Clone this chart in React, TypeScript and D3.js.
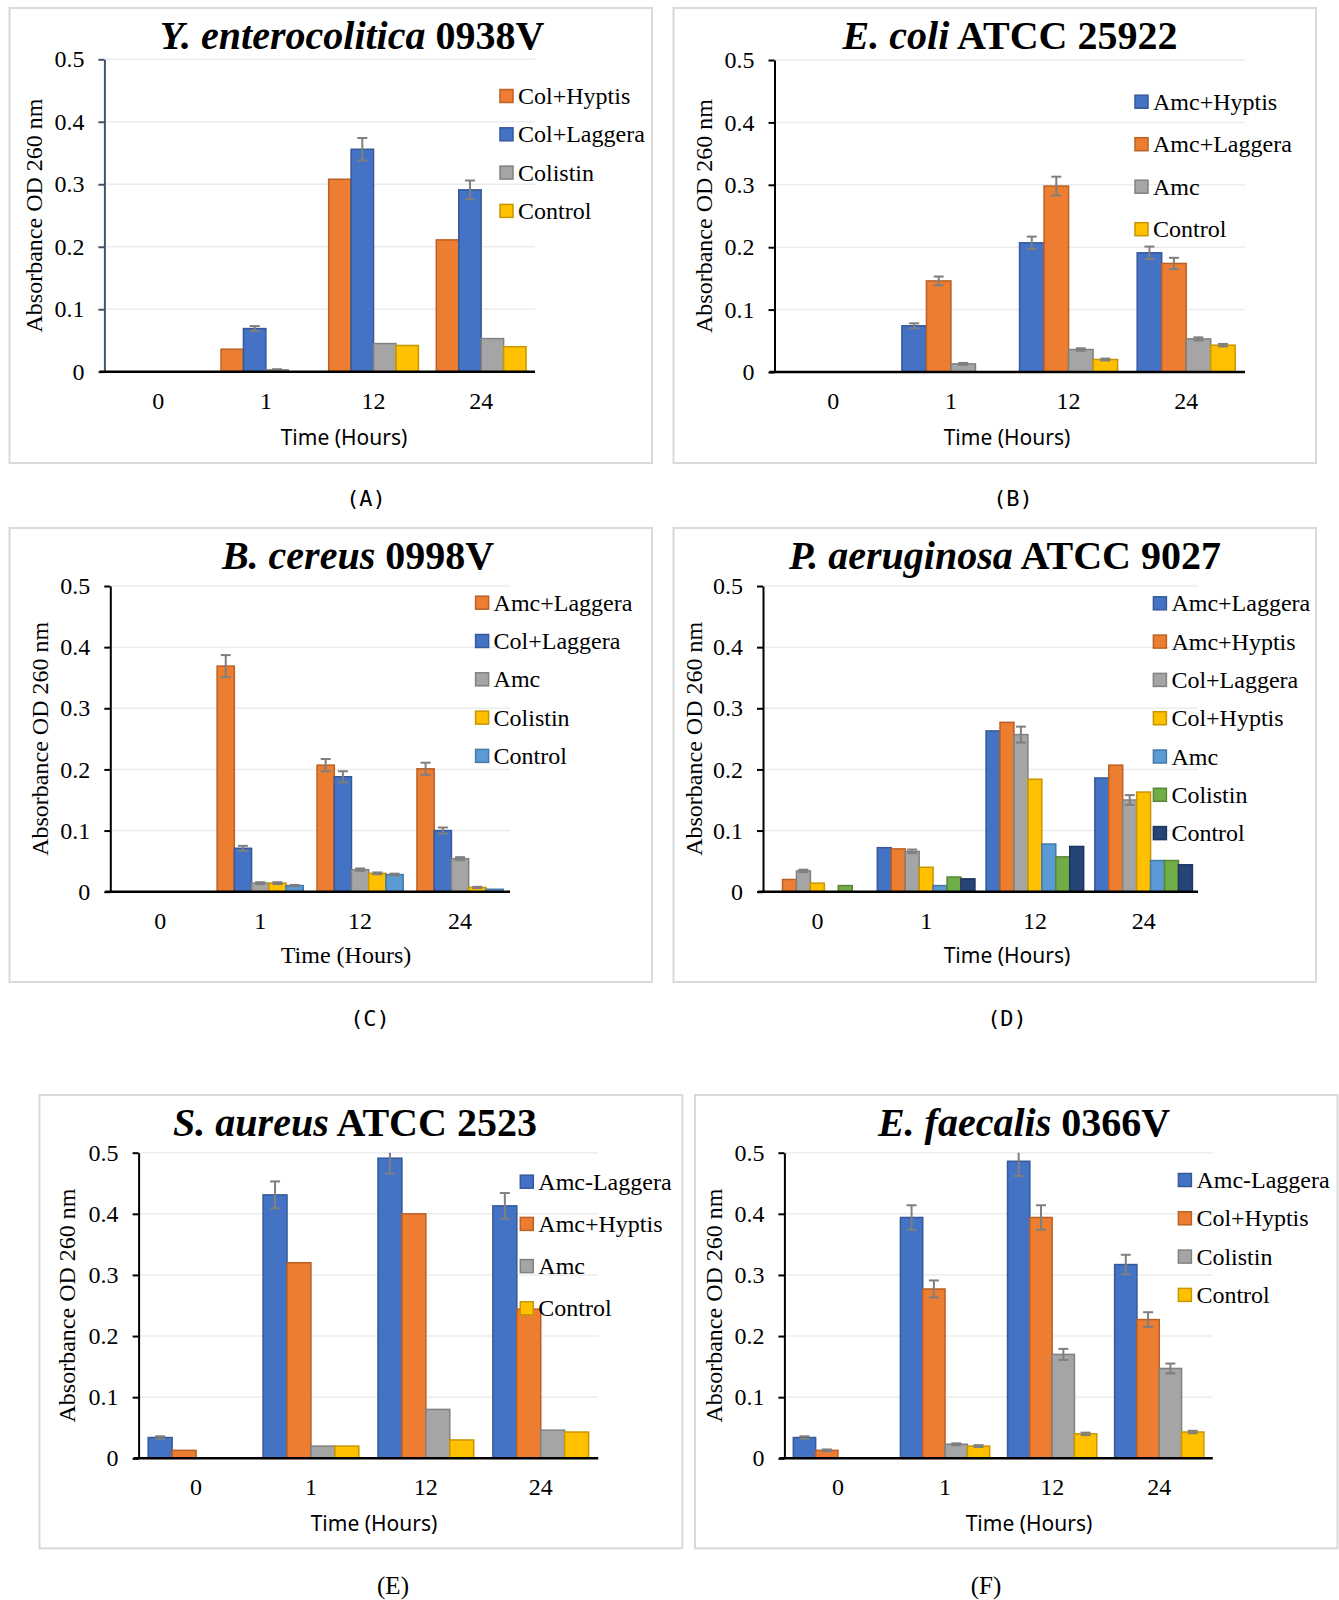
import React, { useRef, useEffect } from "react";
import * as d3 from "d3";

// shared categories / ticks
const hours = ["0", "1", "12", "24"];
const yTicks = [0, 0.1, 0.2, 0.3, 0.4, 0.5];

// Excel-ish palette
const BLUE = "#4472C4";
const ORANGE = "#ED7D31";
const GRAY = "#A5A5A5";
const YELLOW = "#FFC000";
const SKY = "#5B9BD5";
const GREEN = "#70AD47";
const NAVY = "#264478";

// (A) Y. enterocolitica 0938V
const titleA = ["Y. enterocolitica", "0938V"];
const seriesA = ["Col+Hyptis", "Col+Laggera", "Colistin", "Control"];
const colorsA = [ORANGE, BLUE, GRAY, YELLOW];
const valuesA = [
  [0, 0.036, 0.308, 0.211],
  [0, 0.069, 0.356, 0.291],
  [0, 0.003, 0.045, 0.053],
  [0, 0, 0.042, 0.04],
];
const errorsA = [
  [0, 0, 0, 0],
  [0, 0.004, 0.018, 0.015],
  [0, 0.001, 0, 0],
  [0, 0, 0, 0],
];

// (B) E. coli ATCC 25922
const titleB = ["E. coli", "ATCC 25922"];
const seriesB = ["Amc+Hyptis", "Amc+Laggera", "Amc", "Control"];
const colorsB = [BLUE, ORANGE, GRAY, YELLOW];
const valuesB = [
  [0, 0.074, 0.207, 0.191],
  [0, 0.146, 0.298, 0.174],
  [0, 0.013, 0.036, 0.053],
  [0, 0, 0.02, 0.043],
];
const errorsB = [
  [0, 0.004, 0.01, 0.01],
  [0, 0.007, 0.015, 0.009],
  [0, 0.0015, 0.002, 0.0025],
  [0, 0, 0.0015, 0.002],
];

// (C) B. cereus 0998V
const titleC = ["B. cereus", "0998V"];
const seriesC = ["Amc+Laggera", "Col+Laggera", "Amc", "Colistin", "Control"];
const colorsC = [ORANGE, BLUE, GRAY, YELLOW, SKY];
const valuesC = [
  [0, 0.369, 0.207, 0.201],
  [0, 0.071, 0.188, 0.1],
  [0, 0.014, 0.036, 0.054],
  [0, 0.014, 0.03, 0.007],
  [0, 0.01, 0.028, 0.004],
];
const errorsC = [
  [0, 0.018, 0.01, 0.01],
  [0, 0.004, 0.009, 0.005],
  [0, 0.0015, 0.002, 0.0025],
  [0, 0.0015, 0.0015, 0.001],
  [0, 0.001, 0.0015, 0],
];

// (D) P. aeruginosa ATCC 9027
const titleD = ["P. aeruginosa", "ATCC 9027"];
const seriesD = ["Amc+Laggera", "Amc+Hyptis", "Col+Laggera", "Col+Hyptis", "Amc", "Colistin", "Control"];
const colorsD = [BLUE, ORANGE, GRAY, YELLOW, SKY, GREEN, NAVY];
const valuesD = [
  [0, 0.072, 0.263, 0.186],
  [0.02, 0.07, 0.277, 0.207],
  [0.034, 0.066, 0.257, 0.15],
  [0.014, 0.04, 0.184, 0.163],
  [0, 0.01, 0.078, 0.051],
  [0.01, 0.024, 0.057, 0.051],
  [0, 0.021, 0.074, 0.044],
];
const errorsD = [
  [0, 0, 0, 0],
  [0, 0, 0, 0],
  [0.002, 0.003, 0.013, 0.008],
  [0, 0, 0, 0],
  [0, 0, 0, 0],
  [0, 0, 0, 0],
  [0, 0, 0, 0],
];

// (E) S. aureus ATCC 2523
const titleE = ["S. aureus", "ATCC 2523"];
const seriesE = ["Amc-Laggera", "Amc+Hyptis", "Amc", "Control"];
const colorsE = [BLUE, ORANGE, GRAY, YELLOW];
const valuesE = [
  [0.034, 0.431, 0.491, 0.413],
  [0.013, 0.32, 0.4, 0.244],
  [0, 0.02, 0.08, 0.046],
  [0, 0.02, 0.03, 0.043],
];
const errorsE = [
  [0.002, 0.022, 0.025, 0.021],
  [0, 0, 0, 0],
  [0, 0, 0, 0],
  [0, 0, 0, 0],
];

// (F) E. faecalis 0366V
const titleF = ["E. faecalis", "0366V"];
const seriesF = ["Amc-Laggera", "Col+Hyptis", "Colistin", "Control"];
const colorsF = [BLUE, ORANGE, GRAY, YELLOW];
const valuesF = [
  [0.034, 0.394, 0.486, 0.317],
  [0.013, 0.277, 0.394, 0.227],
  [0, 0.023, 0.17, 0.147],
  [0, 0.02, 0.04, 0.043],
];
const errorsF = [
  [0.002, 0.02, 0.024, 0.016],
  [0.0015, 0.014, 0.02, 0.012],
  [0, 0.0015, 0.009, 0.008],
  [0, 0.0015, 0.002, 0.002],
];

const SERIF = "'Liberation Serif', 'Times New Roman', serif";
const SANS = "'Noto Sans', sans-serif";
const MONO = "'DejaVu Sans Mono', monospace";

// layout of each panel on the page
const panels = [
  {
    tag: "(A)", tagFont: MONO, tagX: 366, tagY: 498,
    title: titleA, series: seriesA, colors: colorsA, values: valuesA, errors: errorsA,
    box: [9.5, 8, 652, 463], left: 104.4, right: 535, top: 59.3, bottom: 371.7,
    titleX: 352, titleY: 35, legX: 500, legY: 96, legDy: 38.3,
    yLabX: 34, xLabX: 344, xLabY: 437, xLabFont: SANS, axisColor: "#44546A",
  },
  {
    tag: "(B)", tagFont: MONO, tagX: 1013, tagY: 498,
    title: titleB, series: seriesB, colors: colorsB, values: valuesB, errors: errorsB,
    box: [673.5, 8, 1316, 463], left: 774.5, right: 1245, top: 60, bottom: 372,
    titleX: 1010, titleY: 35, legX: 1135, legY: 101.7, legDy: 42.5,
    yLabX: 704, xLabX: 1007, xLabY: 437, xLabFont: SANS, axisColor: "#000",
  },
  {
    tag: "(C)", tagFont: MONO, tagX: 370, tagY: 1018,
    title: titleC, series: seriesC, colors: colorsC, values: valuesC, errors: errorsC,
    box: [9.5, 528, 652, 982], left: 110.3, right: 510, top: 586, bottom: 891.7,
    titleX: 358, titleY: 555, legX: 475.6, legY: 602.7, legDy: 38.3,
    yLabX: 40, xLabX: 346, xLabY: 955, xLabFont: SERIF, axisColor: "#000",
  },
  {
    tag: "(D)", tagFont: MONO, tagX: 1007, tagY: 1018,
    title: titleD, series: seriesD, colors: colorsD, values: valuesD, errors: errorsD,
    box: [673.5, 528, 1316, 982], left: 763, right: 1198, top: 586, bottom: 891.7,
    titleX: 1005, titleY: 555, legX: 1153.4, legY: 603.3, legDy: 38.3,
    yLabX: 693.5, xLabX: 1007, xLabY: 955, xLabFont: SANS, axisColor: "#000",
  },
  {
    tag: "(E)", tagFont: SERIF, tagX: 393, tagY: 1585,
    title: titleE, series: seriesE, colors: colorsE, values: valuesE, errors: errorsE,
    box: [39.5, 1095, 682.4, 1548.3], left: 138.6, right: 598.2, top: 1152.7, bottom: 1458.3,
    titleX: 355, titleY: 1122, legX: 520.3, legY: 1181.7, legDy: 42.2,
    yLabX: 67, xLabX: 374, xLabY: 1522.7, xLabFont: SANS, axisColor: "#000",
  },
  {
    tag: "(F)", tagFont: SERIF, tagX: 986, tagY: 1585,
    title: titleF, series: seriesF, colors: colorsF, values: valuesF, errors: errorsF,
    box: [695, 1095, 1337.5, 1548.3], left: 784.4, right: 1212.8, top: 1152.7, bottom: 1458.3,
    titleX: 1024, titleY: 1122, legX: 1178.4, legY: 1180, legDy: 38.3,
    yLabX: 714, xLabX: 1029, xLabY: 1522.7, xLabFont: SANS, axisColor: "#000",
  },
];

function drawPanel(root, p) {
  const g = root.append("g");

  // frame
  g.append("rect")
    .attr("x", p.box[0])
    .attr("y", p.box[1])
    .attr("width", p.box[2] - p.box[0])
    .attr("height", p.box[3] - p.box[1])
    .attr("fill", "#fff")
    .attr("stroke", "#d9d9d9")
    .attr("stroke-width", 2);

  const x0 = d3.scaleBand().domain(hours).range([p.left, p.right]);
  const x1 = d3
    .scaleBand()
    .domain(p.series)
    .range([0, x0.bandwidth()])
    .paddingOuter(0.4);
  const y = d3.scaleLinear().domain([0, 0.5]).range([p.bottom, p.top]);

  // gridlines
  g.selectAll(".grid")
    .data(yTicks.slice(1))
    .join("line")
    .attr("x1", p.left)
    .attr("x2", p.right)
    .attr("y1", (d) => y(d))
    .attr("y2", (d) => y(d))
    .attr("stroke", "#ececec")
    .attr("stroke-width", 1.5);

  // bars
  const cells = [];
  p.series.forEach((s, si) => {
    hours.forEach((h, hi) => {
      cells.push({ s, h, v: p.values[si][hi], e: p.errors[si][hi], c: p.colors[si] });
    });
  });

  g.selectAll(".bar")
    .data(cells.filter((d) => d.v > 0))
    .join("rect")
    .attr("x", (d) => x0(d.h) + x1(d.s))
    .attr("y", (d) => y(d.v))
    .attr("width", x1.bandwidth())
    .attr("height", (d) => y(0) - y(d.v))
    .attr("fill", (d) => d.c)
    .attr("stroke", (d) => d3.color(d.c).darker(0.7).formatHex())
    .attr("stroke-width", 1.5);

  // error bars (clipped to the plot top like Excel)
  const errs = cells.filter((d) => d.e > 0);
  const cx = (d) => x0(d.h) + x1(d.s) + x1.bandwidth() / 2;
  const eg = g.append("g").attr("stroke", "#7F7F7F").attr("stroke-width", 2);
  errs.forEach((d) => {
    const hi = Math.min(d.v + d.e, 0.5);
    const lo = d.v - d.e;
    eg.append("line").attr("x1", cx(d)).attr("x2", cx(d)).attr("y1", y(hi)).attr("y2", y(lo));
    if (d.v + d.e <= 0.5) {
      eg.append("line").attr("x1", cx(d) - 5).attr("x2", cx(d) + 5).attr("y1", y(hi)).attr("y2", y(hi));
    }
    eg.append("line").attr("x1", cx(d) - 5).attr("x2", cx(d) + 5).attr("y1", y(lo)).attr("y2", y(lo));
  });

  // y axis
  const yAxis = g
    .append("g")
    .attr("transform", `translate(${p.left},0)`)
    .call(
      d3
        .axisLeft(y)
        .tickValues(yTicks)
        .tickFormat((d) => (d === 0 ? "0" : d3.format(".1f")(d)))
        .tickSize(6)
        .tickSizeOuter(0)
        .tickPadding(14)
    );
  yAxis.select(".domain").attr("stroke", p.axisColor).attr("stroke-width", 2);
  yAxis.selectAll(".tick line").attr("stroke", p.axisColor).attr("stroke-width", 2);
  yAxis
    .selectAll(".tick text")
    .attr("font-family", SERIF)
    .attr("font-size", 24)
    .attr("fill", "#000");

  // x axis
  const xAxis = g
    .append("g")
    .attr("transform", `translate(0,${p.bottom})`)
    .call(d3.axisBottom(x0).tickSize(0).tickPadding(20));
  xAxis.select(".domain").remove();
  xAxis
    .selectAll(".tick text")
    .attr("font-family", SERIF)
    .attr("font-size", 24)
    .attr("fill", "#000");
  g.append("line")
    .attr("x1", p.left - 5)
    .attr("x2", p.right)
    .attr("y1", p.bottom)
    .attr("y2", p.bottom)
    .attr("stroke", "#000")
    .attr("stroke-width", 2.5);

  // title
  const t = g
    .append("text")
    .attr("x", p.titleX)
    .attr("y", p.titleY)
    .attr("text-anchor", "middle")
    .attr("dominant-baseline", "central")
    .attr("font-family", SERIF)
    .attr("font-weight", "bold")
    .attr("font-size", 40);
  t.append("tspan").attr("font-style", "italic").text(p.title[0]);
  t.append("tspan").text(" " + p.title[1]);

  // axis labels
  g.append("text")
    .attr("transform", `translate(${p.yLabX},${(p.top + p.bottom) / 2}) rotate(-90)`)
    .attr("text-anchor", "middle")
    .attr("dominant-baseline", "central")
    .attr("font-family", SERIF)
    .attr("font-size", 24)
    .text("Absorbance OD 260 nm");

  g.append("text")
    .attr("x", p.xLabX)
    .attr("y", p.xLabY)
    .attr("text-anchor", "middle")
    .attr("dominant-baseline", "central")
    .attr("font-family", p.xLabFont)
    .attr("font-size", p.xLabFont === SERIF ? 24 : 21)
    .text("Time (Hours)");

  // legend
  const leg = g
    .selectAll(".leg")
    .data(p.series)
    .join("g")
    .attr("transform", (d, i) => `translate(${p.legX},${p.legY + i * p.legDy})`);
  leg
    .append("rect")
    .attr("x", 0)
    .attr("y", -6.5)
    .attr("width", 13)
    .attr("height", 13)
    .attr("fill", (d, i) => p.colors[i])
    .attr("stroke", (d, i) => d3.color(p.colors[i]).darker(0.7).formatHex())
    .attr("stroke-width", 1.5);
  leg
    .append("text")
    .attr("x", 18)
    .attr("y", 0)
    .attr("dominant-baseline", "central")
    .attr("font-family", SERIF)
    .attr("font-size", 24)
    .text((d) => d);

  // panel tag
  root
    .append("text")
    .attr("x", p.tagX)
    .attr("y", p.tagY)
    .attr("text-anchor", "middle")
    .attr("dominant-baseline", "central")
    .attr("font-family", p.tagFont)
    .attr("font-size", p.tagFont === SERIF ? 25 : 22)
    .text(p.tag);
}

const App = () => {
  const svgRef = useRef(null);

  useEffect(() => {
    const svg = d3.select(svgRef.current);
    svg.selectAll("*").remove();
    panels.forEach((p) => drawPanel(svg, p));
  }, []);

  return (
    <svg
      ref={svgRef}
      width={1339}
      height={1600}
      style={{ position: "absolute", left: 0, top: 0, background: "#fff" }}
    />
  );
};

export default App;
